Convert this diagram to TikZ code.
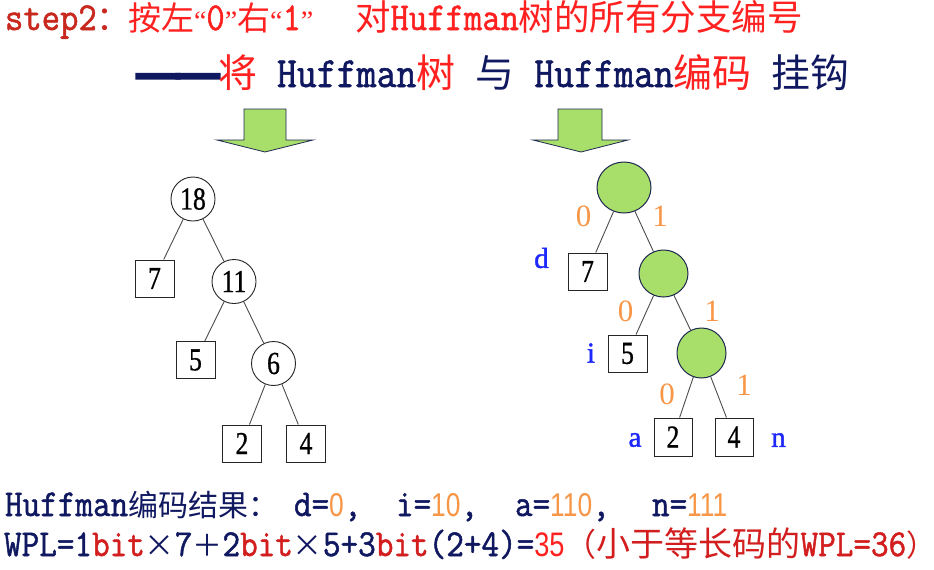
\documentclass[tikz,border=0pt]{standalone}
\usepackage{fontspec}
\usepackage{graphicx}
\setmainfont{Latin Modern Mono}[FakeStretch=0.9,FakeBold=1.3]
\newfontfamily\zh{Noto Sans CJK SC}
\newfontfamily\zhdash{Noto Sans CJK SC}[FakeBold=3]
\newfontfamily\numf{Liberation Serif}[FakeStretch=0.8,FakeBold=0.8]
\newfontfamily\serf{Liberation Serif}
\newfontfamily\letf{Liberation Serif}[FakeBold=1.5]
\newfontfamily\digf{Liberation Sans}[FakeStretch=0.8]
\usetikzlibrary{shapes.geometric}
\definecolor{navy}{RGB}{16,24,96}
\definecolor{stepred}{RGB}{200,40,30}
\definecolor{bred}{RGB}{255,32,32}
\definecolor{dred}{RGB}{210,30,30}
\definecolor{orangec}{RGB}{247,150,70}
\definecolor{bluec}{RGB}{30,40,250}
\definecolor{lgreen}{RGB}{168,222,106}
\definecolor{cline}{RGB}{30,40,80}
\newcommand\setfs[1]{\fontsize{#1pt}{#1pt}\selectfont}
\newcommand\qo{{\serf\setfs{28}“}}
\newcommand\qc{{\serf\setfs{28}”}}
\newcommand\bigdash{\makebox[40pt]{\scalebox{1.4}[1.9]{—}}}
\tikzset{
  txt/.style={anchor=base west, inner sep=0pt, outer sep=0pt},
  inode/.style={circle, draw=black!85, line width=0.9pt, minimum size=44pt, inner sep=0pt, font={\numf\setfs{32}}},
  leaf/.style={rectangle, draw=black!85, line width=1pt, minimum width=39pt, minimum height=37pt, inner sep=0pt, font={\numf\setfs{32}}},
  gnode/.style={ellipse, draw=cline, fill=lgreen, line width=1pt, inner sep=0pt},
  link/.style={draw=black!70, line width=0.9pt},
  bitlab/.style={text=orangec, font={\serf\setfs{31}}, inner sep=0pt},
  chlab/.style={text=bluec, font={\letf\setfs{29}}, inner sep=0pt},
  blockarrow/.style={draw=cline, fill=lgreen, line width=0.8pt, line join=miter},
}
\begin{document}
\begin{tikzpicture}[x=1pt,y=-1pt]
\useasboundingbox (0,0) rectangle (934,570);
\fill[white] (0,0) rectangle (934,570);

% title lines
\node[txt,text=stepred] (s1a) at (5,30) {\setfs{39.6}step2{\setfs{34}\zh ：}};
\node[txt,text=bred] (s1b) at (128,30) {\setfs{39.6}{\setfs{33}\zh 按左}\qo 0\qc{\setfs{33}\zh 右}\qo 1\qc};
\node[txt,text=bred] (s1c) at (355,30) {\setfs{39.6}{\setfs{35.5}\zh 对}Huffman{\setfs{35.5}\zh 树的所有分支编号}};
\node[txt,text=navy] (s2) at (138,87) {\setfs{43}\raisebox{-10pt}[0pt][0pt]{\setfs{39}\zhdash \bigdash\bigdash}{\setfs{39}\zh\color{bred}将} Huffman{\setfs{39}\zh\color{bred}树} {\setfs{39}\zh 与} Huffman{\setfs{39}\zh\color{bred}编码} {\setfs{39}\zh 挂钩}};

% block arrows
\draw[blockarrow] (244,109) -- (286,109) -- (286,140) -- (313,140) -- (265,152) -- (217,140) -- (244,140) -- cycle;
\draw[blockarrow] (558,109) -- (602,109) -- (602,140) -- (628,140) -- (581,152) -- (533,140) -- (558,140) -- cycle;

% left tree
\node[inode] (n18) at (193,199) {18};
\node[leaf] (l7) at (154.5,278.5) {7};
\node[inode] (n11) at (234,281.5) {11};
\node[leaf] (l5) at (195.5,360) {5};
\node[inode] (n6) at (273.5,363.5) {6};
\node[leaf] (l2) at (242,443.5) {2};
\node[leaf] (l4) at (306,443.5) {4};
\draw[link] (n18) -- (l7);
\draw[link] (n18) -- (n11);
\draw[link] (n11) -- (l5);
\draw[link] (n11) -- (n6);
\draw[link] (n6) -- (l2);
\draw[link] (n6) -- (l4);

% right tree
\node[gnode, minimum width=54pt, minimum height=51pt] (g1) at (624,187.5) {};
\node[leaf] (r7) at (587.5,271.5) {7};
\node[gnode, minimum width=49pt, minimum height=47pt] (g2) at (663.5,273.5) {};
\node[leaf] (r5) at (627.5,353.5) {5};
\node[gnode, minimum width=49pt, minimum height=50pt] (g3) at (701.5,353) {};
\node[leaf, minimum width=38pt, minimum height=38pt] (r2) at (673,437) {2};
\node[leaf, minimum width=38pt, minimum height=38pt] (r4) at (734,437) {4};
\draw[link] (g1) -- (r7);
\draw[link] (g1) -- (g2);
\draw[link] (g2) -- (r5);
\draw[link] (g2) -- (g3);
\draw[link] (g3) -- (r2);
\draw[link] (g3) -- (r4);

% branch labels
\node[bitlab] (z1) at (583.5,216) {0};
\node[bitlab] (o1) at (660,216) {1};
\node[bitlab] (z2) at (625.5,311) {0};
\node[bitlab] (o2) at (712,311) {1};
\node[bitlab] (z3) at (667,394) {0};
\node[bitlab] (o3) at (744,385) {1};
\node[chlab] (cd) at (541.5,258) {d};
\node[chlab] (ci) at (591,353) {i};
\node[chlab] (ca) at (635,440) {a};
\node[chlab] (cn) at (778.5,440) {n};

% bottom lines
\node[txt,text=navy] (b1a) at (5,516) {\setfs{38}Huffman{\setfs{30}\zh 编码结果：}};
\node[txt,text=navy] (b1b) at (294,516) {\setfs{38}d={\digf\setfs{33}\color{orangec}0},};
\node[txt,text=navy] (b1c) at (396,516) {\setfs{38}i={\digf\setfs{33}\color{orangec}10},};
\node[txt,text=navy] (b1d) at (515,516) {\setfs{38}a={\digf\setfs{33}\color{orangec}110},};
\node[txt,text=navy] (b1e) at (652,516) {\setfs{38}n={\digf\setfs{33}\color{orangec}111}};
\node[txt,text=navy] (b2) at (4,556) {\setfs{38}WPL=1{\color{dred}bit}\makebox[30pt]{\setfs{30}\zh ×}7{\setfs{30}\zh ＋}2{\color{dred}bit}\makebox[30pt]{\setfs{30}\zh ×}5+3{\color{dred}bit}(2+4)={\digf\setfs{34}\color{bred}35}{\color{dred}\setfs{32}\zh （}{\color{dred}\setfs{34}\zh 小于等长码的}{\color{dred}WPL=36}\makebox[14pt][l]{\color{dred}\setfs{30}\zh ）}};
\end{tikzpicture}
\end{document}
